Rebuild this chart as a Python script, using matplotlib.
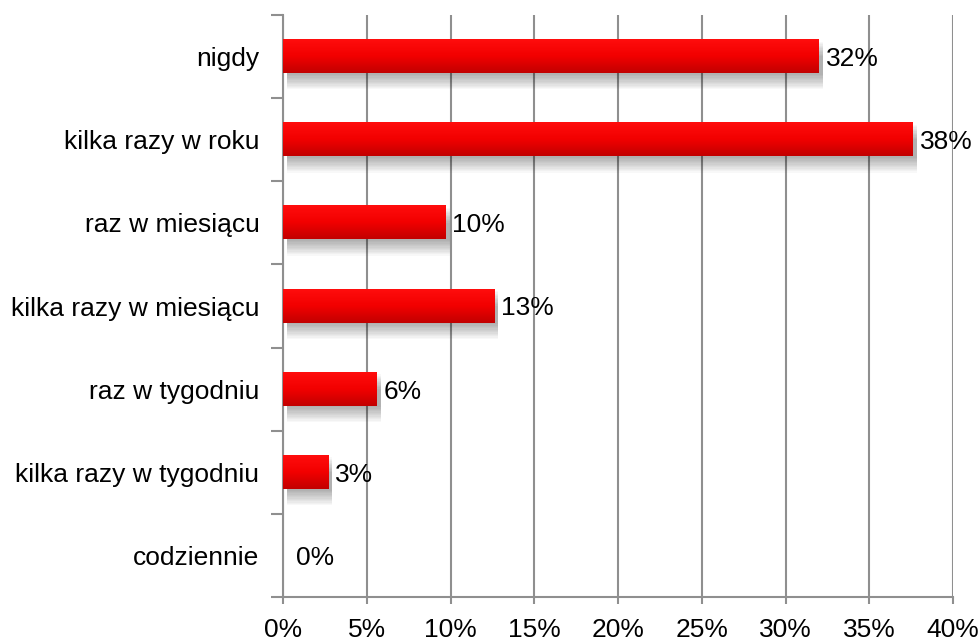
import matplotlib
matplotlib.use("Agg")
import matplotlib.pyplot as plt
import numpy as np
from matplotlib.colors import LinearSegmentedColormap
from matplotlib.patches import Rectangle

plt.rcParams['font.family'] = ['Liberation Sans', 'DejaVu Sans']

categories = ["nigdy", "kilka razy w roku", "raz w miesiącu", "kilka razy w miesiącu",
              "raz w tygodniu", "kilka razy w tygodniu", "codziennie"]
values = [32.0, 37.6, 9.7, 12.6, 5.6, 2.7, 0.0]
value_labels = ["32%", "38%", "10%", "13%", "6%", "3%", "0%"]
x_ticks = [0, 5, 10, 15, 20, 25, 30, 35, 40]
x_tick_labels = ["0%", "5%", "10%", "15%", "20%", "25%", "30%", "35%", "40%"]

fig = plt.figure(figsize=(9.8, 6.4), dpi=100)
ax = fig.add_axes([283/980, 1 - 597/640, (953 - 283)/980, (597 - 15)/640])

n = len(categories)
ypos = np.arange(n)
bar_h = 0.4
grid_c = "#8f8f8f"

ax.set_xlim(0, 40)
ax.set_ylim(n - 0.5, -0.5)

ax.set_xticks(x_ticks)
ax.set_xticklabels(x_tick_labels, fontsize=19)
ax.xaxis.grid(True, color=grid_c, linewidth=1.5, zorder=0)
ax.set_axisbelow(True)

cmap = LinearSegmentedColormap.from_list("redgrad", ["#ff0d0d", "#f20000", "#c20000"])
grad = np.linspace(0, 1, 64).reshape(-1, 1)

for y, v, lab in zip(ypos, values, value_labels):
    if v > 0:
        # soft shadow
        for k in range(12):
            off = 0.02 + k * 0.016
            ax.add_patch(Rectangle((0.25, y - bar_h / 2 + off), v, bar_h,
                                   facecolor="black", alpha=0.028, edgecolor="none", zorder=2))
        ax.imshow(grad, cmap=cmap, aspect="auto",
                  extent=(0, v, y + bar_h / 2, y - bar_h / 2), zorder=3,
                  interpolation="bilinear")
    ax.text(v + 0.4 if v > 0 else 0.8, y + 0.03, lab, va="center", ha="left", fontsize=19,
            color="black", zorder=5)

ax.set_xlim(0, 40)
ax.set_ylim(n - 0.5, -0.5)

ax.set_yticks(ypos)
ax.set_yticklabels(categories, fontsize=19)
ax.set_yticks(np.arange(-0.5, n, 1.0), minor=True)
ax.tick_params(axis="y", which="major", length=0, pad=17)
ax.tick_params(axis="y", which="minor", length=9, width=1.5, color=grid_c, direction="out")
ax.tick_params(axis="x", which="major", length=5, width=1.5, color=grid_c, direction="out", pad=10)

for s in ["top", "right"]:
    ax.spines[s].set_visible(False)
for s in ["left", "bottom"]:
    ax.spines[s].set_color(grid_c)
    ax.spines[s].set_linewidth(1.5)

fig.savefig("out.png", dpi=100, facecolor="white")
